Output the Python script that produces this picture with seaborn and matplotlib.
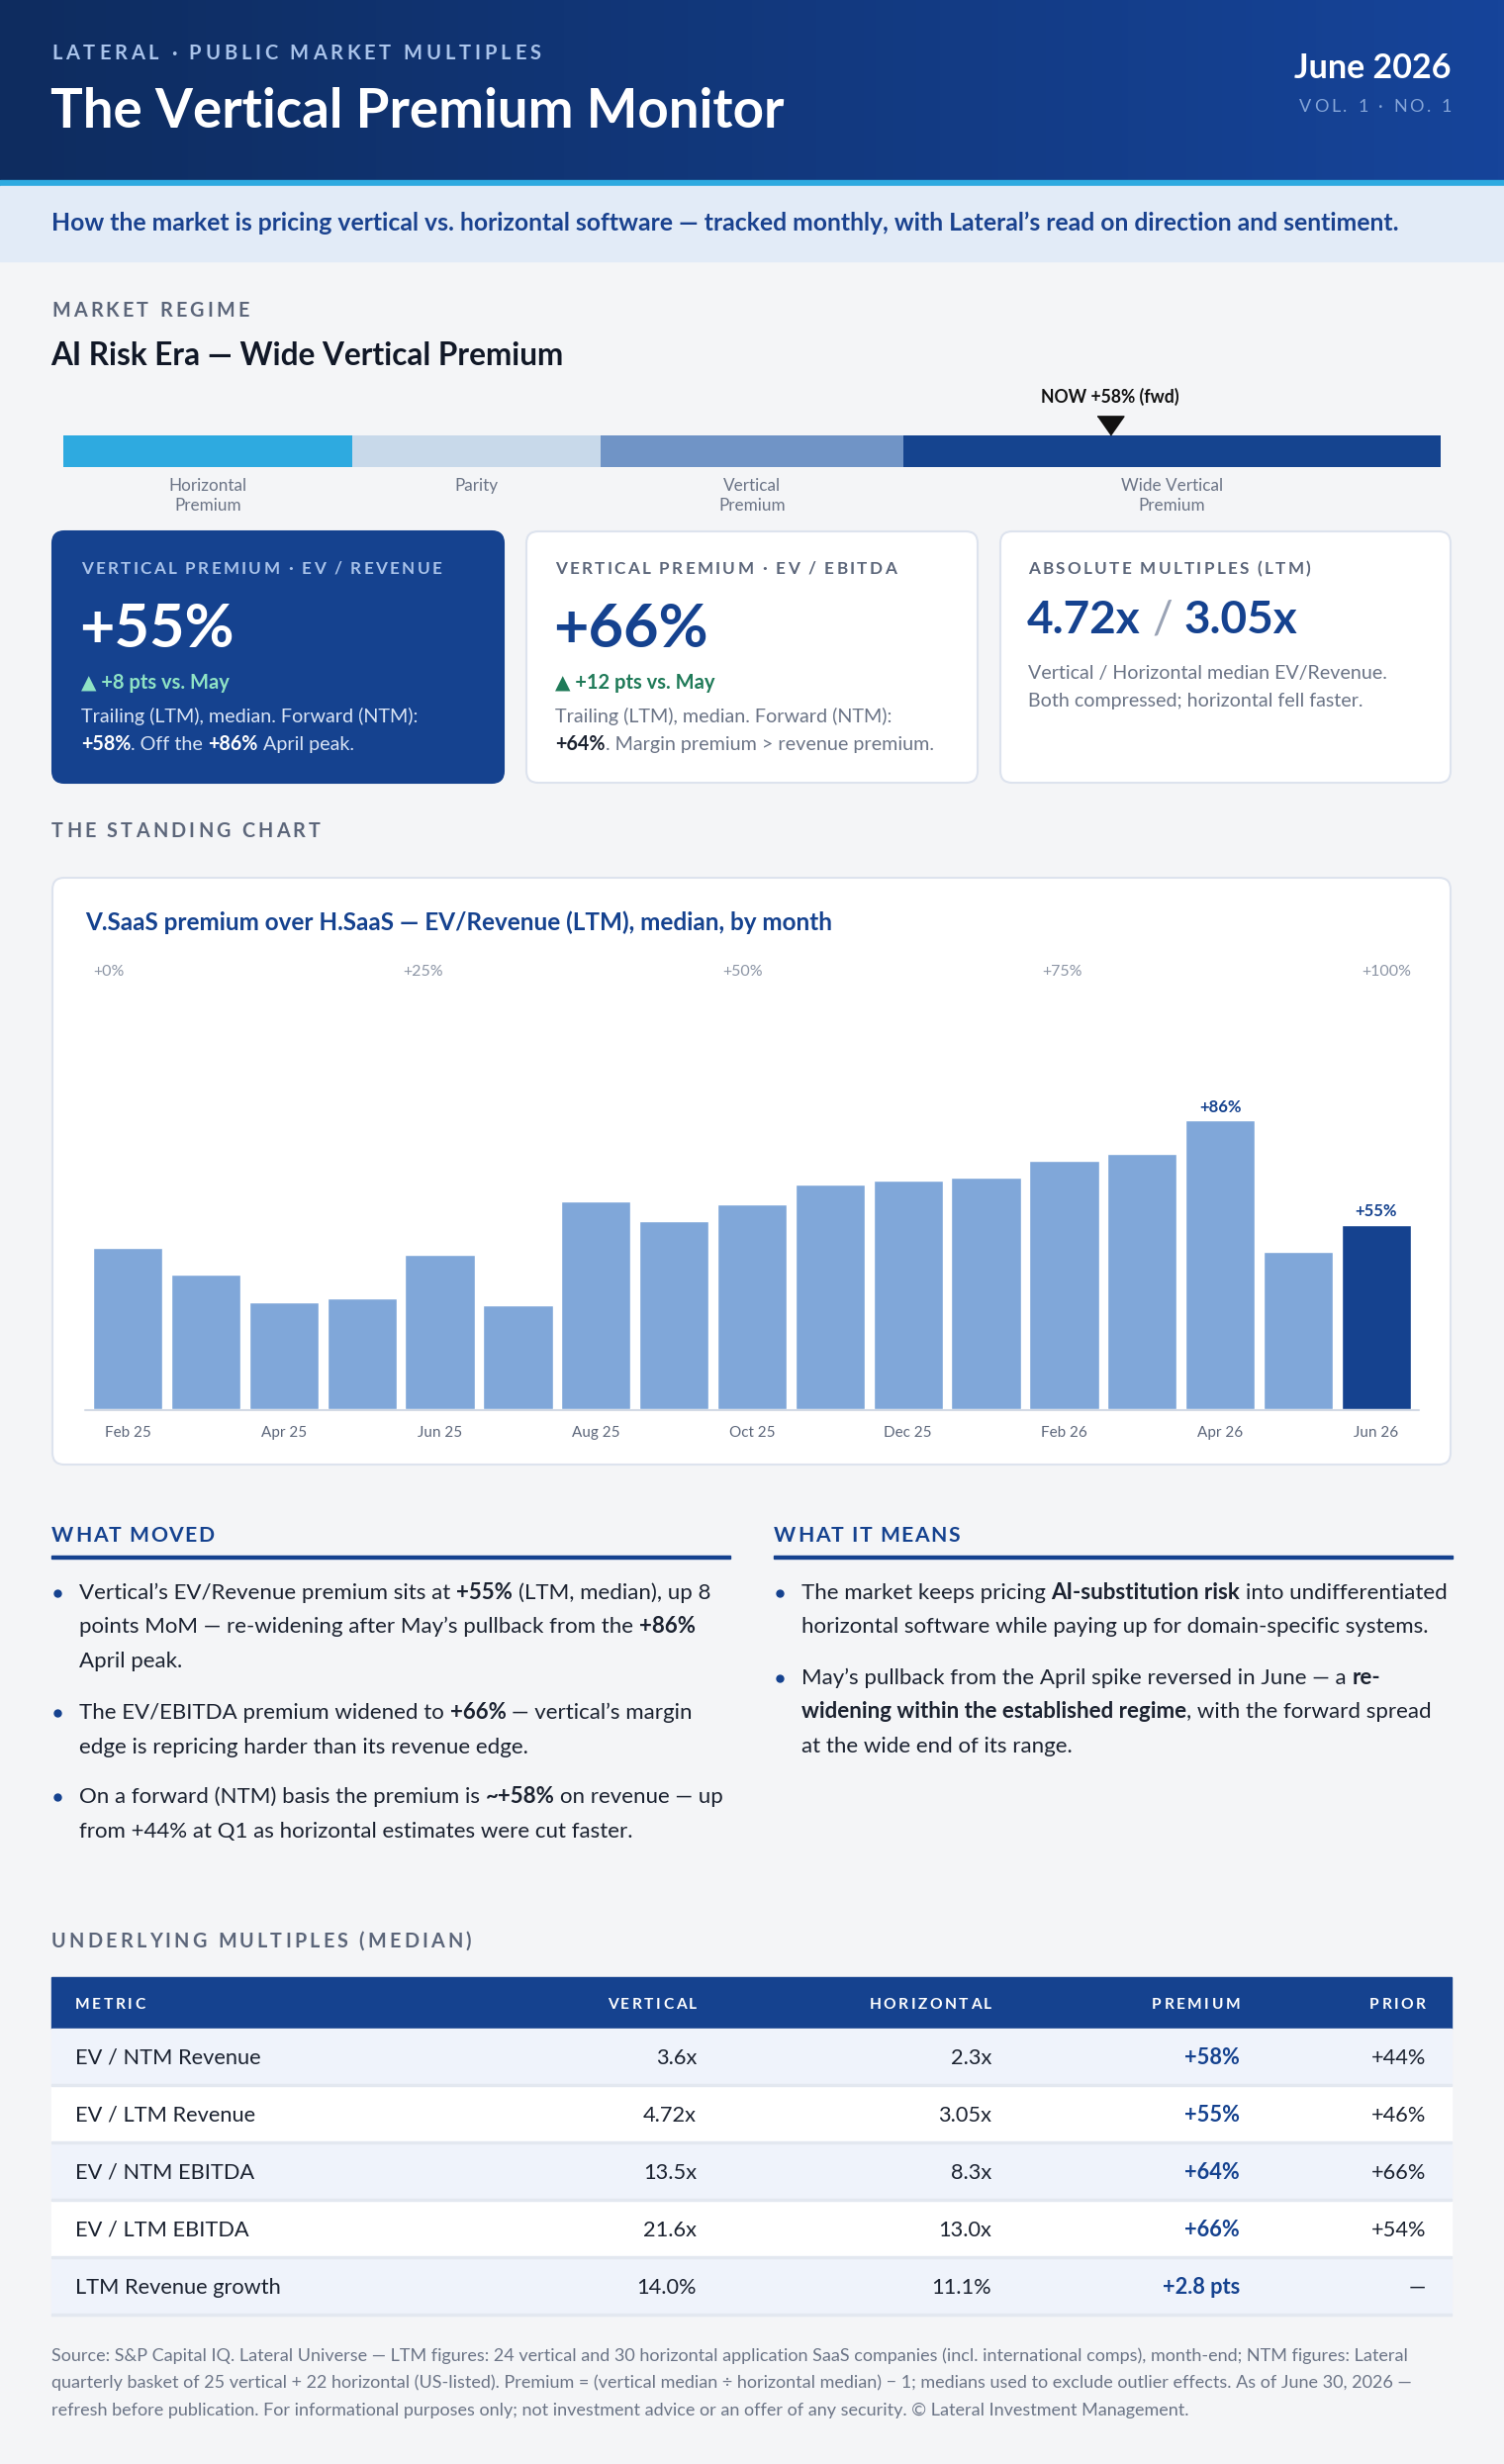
import matplotlib
matplotlib.use('Agg')
import numpy as np
import pandas as pd
import seaborn as sns
import matplotlib.pyplot as plt
from matplotlib.font_manager import FontProperties
from matplotlib.patches import FancyBboxPatch, Rectangle
from matplotlib.colors import LinearSegmentedColormap

W, H = 1520, 2490
FONT = 'Lato'

BLUE = '#15428f'
PAGE = '#f4f5f7'
INK = '#1b2230'
GRAY = '#5c667a'
MUTED = '#6b7486'
BAR_LIGHT = '#80a7d9'

# ---- chart data ----
months = ['Feb 25', 'Mar 25', 'Apr 25', 'May 25', 'Jun 25', 'Jul 25', 'Aug 25',
          'Sep 25', 'Oct 25', 'Nov 25', 'Dec 25', 'Jan 26', 'Feb 26', 'Mar 26',
          'Apr 26', 'May 26', 'Jun 26']
premium_ltm = [48, 40, 32, 33, 46, 31, 62, 56, 61, 67, 68, 69, 74, 76, 86, 47, 55]
scale_labels = ['+0%', '+25%', '+50%', '+75%', '+100%']

# ---- regime band ----
regime_names = ['Horizontal\nPremium', 'Parity', 'Vertical\nPremium', 'Wide Vertical\nPremium']
regime_widths = [21, 18, 22, 39]
regime_colors = ['#2eaae0', '#c8d9ea', '#7094c6', '#15448f']
now_position = 76
now_label = 'NOW +58% (fwd)'

# ---- table ----
table_cols = ['METRIC', 'VERTICAL', 'HORIZONTAL', 'PREMIUM', 'PRIOR']
metrics = ['EV / NTM Revenue', 'EV / LTM Revenue', 'EV / NTM EBITDA', 'EV / LTM EBITDA',
           'LTM Revenue growth']
vertical = ['3.6x', '4.72x', '13.5x', '21.6x', '14.0%']
horizontal = ['2.3x', '3.05x', '8.3x', '13.0x', '11.1%']
premium = ['+58%', '+55%', '+64%', '+66%', '+2.8 pts']
prior = ['+44%', '+46%', '+66%', '+54%', '—']

# ---- text blocks ----
what_moved = [
    [[("Vertical’s EV/Revenue premium sits at ", False), ("+55%", True), (" (LTM, median), up 8", False)],
     [("points MoM — re-widening after May’s pullback from the ", False), ("+86%", True)],
     [("April peak.", False)]],
    [[("The EV/EBITDA premium widened to ", False), ("+66%", True), (" — vertical’s margin", False)],
     [("edge is repricing harder than its revenue edge.", False)]],
    [[("On a forward (NTM) basis the premium is ", False), ("~+58%", True), (" on revenue — up", False)],
     [("from +44% at Q1 as horizontal estimates were cut faster.", False)]],
]
what_means = [
    [[("The market keeps pricing ", False), ("AI-substitution risk", True), (" into undifferentiated", False)],
     [("horizontal software while paying up for domain-specific systems.", False)]],
    [[("May’s pullback from the April spike reversed in June — a ", False), ("re-", True)],
     [("widening within the established regime", True), (", with the forward spread", False)],
     [("at the wide end of its range.", False)]],
]
footer = [
    "Source: S&P Capital IQ. Lateral Universe — LTM figures: 24 vertical and 30 horizontal application SaaS companies (incl. international comps), month-end; NTM figures: Lateral",
    "quarterly basket of 25 vertical + 22 horizontal (US-listed). Premium = (vertical median ÷ horizontal median) − 1; medians used to exclude outlier effects. As of June 30, 2026 —",
    "refresh before publication. For informational purposes only; not investment advice or an offer of any security. © Lateral Investment Management.",
]


def font(size, bold=False):
    return FontProperties(family=[FONT, 'DejaVu Sans'], size=size,
                          weight='bold' if bold else 'normal')


def advance(R, s, fp):
    if not s:
        return 0.0
    w1 = R.get_text_width_height_descent('|' + s + '|', fp, ismath=False)[0]
    w0 = R.get_text_width_height_descent('||', fp, ismath=False)[0]
    return w1 - w0


def draw_runs(ax, R, x, y, runs, size, color, ha='left'):
    pieces = []
    for run in runs:
        col = run[2] if len(run) > 2 else color
        pieces.append((run[0], font(size, run[1]), col))
    total = sum(advance(R, t, fp) for t, fp, _ in pieces)
    if ha == 'right':
        x -= total
    elif ha == 'center':
        x -= total / 2
    for txt, fp, col in pieces:
        lead = len(txt) - len(txt.lstrip(' '))
        body = txt.strip(' ')
        if body:
            ax.text(x + advance(R, txt[:lead], fp), y, body, fontproperties=fp,
                    color=col, ha='left', va='baseline')
        x += advance(R, txt, fp)


def spaced(ax, R, x, y, s, size, color, track, bold=True, ha='left'):
    fp = font(size, bold)
    total = advance(R, s, fp) + track * (len(s) - 1)
    if ha == 'right':
        x -= total
    for i, ch in enumerate(s):
        if ch == ' ':
            continue
        ax.text(x + advance(R, s[:i], fp) + track * i, y, ch, fontproperties=fp,
                color=color, ha='left', va='baseline')


def card(ax, x0, y0, x1, y1, face, edge=None):
    ax.add_patch(FancyBboxPatch((x0, y0), x1 - x0, y1 - y0,
                                boxstyle='round,pad=0,rounding_size=12',
                                facecolor=face, edgecolor=edge or face,
                                linewidth=1.5, zorder=1))


def main():
    sns.set_theme(style='white')
    plt.rcParams['font.family'] = [FONT, 'DejaVu Sans']

    fig = plt.figure(figsize=(W / 100, H / 100), dpi=100, facecolor=PAGE)
    bg = fig.add_axes([0, 0, 1, 1])
    bg.set_autoscale_on(False)
    bg.axis('off')
    R = fig.canvas.get_renderer()

    # header band
    cmap = LinearSegmentedColormap.from_list('hdr', ['#0e2c5f', '#16449a'])
    bg.imshow(np.linspace(0, 1, 256).reshape(1, -1), cmap=cmap, aspect='auto',
              extent=[0, W, 182, 0], zorder=0)
    bg.add_patch(Rectangle((0, 182), W, 6, color='#2eaae0', zorder=1))
    bg.add_patch(Rectangle((0, 188), W, 76, color='#e2ebf7', zorder=1))
    bg.set_xlim(0, W)
    bg.set_ylim(H, 0)

    spaced(bg, R, 52, 60, 'LATERAL · PUBLIC MARKET MULTIPLES', 14.5, '#a9c3ea', 3.8)
    bg.text(51, 129, 'The Vertical Premium Monitor', fontproperties=font(39.3, True),
            color='white', va='baseline')
    bg.text(1467, 79, 'June 2026', fontproperties=font(24.5, True), color='white',
            ha='right', va='baseline')
    spaced(bg, R, 1467, 113, 'VOL. 1 · NO. 1', 13, '#85a5d8', 2.9, bold=False, ha='right')
    bg.text(52, 233, 'How the market is pricing vertical vs. horizontal software — tracked '
            'monthly, with Lateral’s read on direction and sentiment.',
            fontproperties=font(17.8, True), color='#1a428f', va='baseline')

    # market regime
    spaced(bg, R, 52, 320, 'MARKET REGIME', 14.2, GRAY, 3.2)
    bg.text(51, 369, 'AI Risk Era — Wide Vertical Premium', fontproperties=font(22.7, True),
            color='#111827', va='baseline')

    rax = fig.add_axes([64 / W, 1 - 472 / H, 1392 / W, 32 / H])
    lefts = np.cumsum([0] + regime_widths[:-1])
    rax.barh(0.5, regime_widths, left=lefts, height=1, color=regime_colors, linewidth=0)
    rax.set_xlim(0, 100)
    rax.set_ylim(0, 1)
    rax.axis('off')
    for name, left, width in zip(regime_names, lefts, regime_widths):
        for k, line in enumerate(name.split('\n')):
            rax.text(left + width / 2, -0.6 - 0.63 * k, line, fontproperties=font(12.3),
                     color=MUTED, ha='center', va='center')
    rax.plot([now_position], [1.31], marker=[(-0.7, 0.5), (0.7, 0.5), (0, -0.5)],
             markersize=19.4, color='#111111', clip_on=False, linestyle='none')
    rax.text(now_position, 2.03, now_label, fontproperties=font(12.7, True), color='#111111',
             ha='center', va='baseline')

    # KPI cards
    card(bg, 53, 537, 509, 791, BLUE)
    card(bg, 532, 537, 988, 791, 'white', '#dde3ee')
    card(bg, 1011, 537, 1466, 791, 'white', '#dde3ee')

    spaced(bg, R, 82, 580, 'VERTICAL PREMIUM · EV / REVENUE', 12.3, '#a9c3ea', 2.3)
    bg.text(80, 654, '+55%', fontproperties=font(44, True), color='white', va='baseline')
    draw_runs(bg, R, 82, 696, [('▲ +8 pts vs. May', True)], 14.5, '#8fe3c5')
    draw_runs(bg, R, 82, 730, [('Trailing (LTM), median. Forward (NTM):', False)], 14.2, '#d9e4f5')
    draw_runs(bg, R, 82, 758, [('+58%', True, 'white'), ('. Off the ', False), ('+86%', True, 'white'),
                               (' April peak.', False)], 14.2, '#d9e4f5')

    spaced(bg, R, 561, 580, 'VERTICAL PREMIUM · EV / EBITDA', 12.3, GRAY, 2.3)
    bg.text(559, 654, '+66%', fontproperties=font(44, True), color=BLUE, va='baseline')
    draw_runs(bg, R, 561, 696, [('▲ +12 pts vs. May', True)], 14.5, '#1f7a58')
    draw_runs(bg, R, 561, 730, [('Trailing (LTM), median. Forward (NTM):', False)], 14.2, MUTED)
    draw_runs(bg, R, 561, 758, [('+64%', True, INK), ('. Margin premium > revenue premium.', False)],
              14.2, MUTED)

    spaced(bg, R, 1039, 580, 'ABSOLUTE MULTIPLES (LTM)', 12.3, GRAY, 2.3)
    draw_runs(bg, R, 1038, 640, [('4.72x', True, BLUE), (' / ', False, '#9aa3b5'), ('3.05x', True, BLUE)],
              33, BLUE)
    draw_runs(bg, R, 1039, 686, [('Vertical / Horizontal median EV/Revenue.', False)], 14.1, MUTED)
    draw_runs(bg, R, 1039, 714, [('Both compressed; horizontal fell faster.', False)], 14.1, MUTED)

    # standing chart
    spaced(bg, R, 52, 846, 'THE STANDING CHART', 14.2, GRAY, 3.2)
    card(bg, 53, 887, 1466, 1480, 'white', '#dde3ee')
    bg.text(86, 940, 'V.SaaS premium over H.SaaS — EV/Revenue (LTM), median, by month',
            fontproperties=font(17.5, True), color=BLUE, va='baseline')

    bars_l, bars_r, chart_top, chart_base = 94, 1426, 1000, 1424
    bar_w = 0.89
    fp_scale = font(11.5)
    widths = [advance(R, s, fp_scale) for s in scale_labels]
    gap = (bars_r - bars_l - sum(widths)) / (len(scale_labels) - 1)
    sx = bars_l
    for s, w in zip(scale_labels, widths):
        bg.text(sx, 986, s, fontproperties=fp_scale, color='#8c95a5', va='baseline')
        sx += w + gap

    bg.plot([86, 1434], [1425, 1425], color='#d3dae5', linewidth=1.5, zorder=2)

    slot = (bars_r - bars_l) / (len(months) - 1 + bar_w)
    chart_l = bars_l - slot * (1 - bar_w) / 2
    cax = fig.add_axes([chart_l / W, 1 - chart_base / H, slot * len(months) / W,
                        (chart_base - chart_top) / H])
    df = pd.DataFrame({'month': months, 'premium': premium_ltm})
    df['kind'] = np.where(df['month'] == months[-1], 'current', 'past')
    sns.barplot(data=df, x='month', y='premium', hue='kind',
                palette={'past': BAR_LIGHT, 'current': BLUE}, dodge=False,
                saturation=1, width=bar_w, legend=False, ax=cax)
    cax.set_facecolor('none')
    cax.set_xlim(-0.5, len(months) - 0.5)
    cax.set_ylim(0, (chart_base - chart_top) / 3.39)
    cax.set_xlabel('')
    cax.set_ylabel('')
    cax.set_yticks([])
    cax.set_xticks(range(0, len(months), 2))
    cax.set_xticklabels(months[::2])
    cax.tick_params(axis='x', length=0, pad=12, labelsize=11, labelcolor=GRAY)
    sns.despine(ax=cax, left=True, bottom=True)
    peak = int(np.argmax(premium_ltm))
    for i in [peak, len(months) - 1]:
        cax.annotate(f'+{premium_ltm[i]}%', (i, premium_ltm[i]), xytext=(0, 6.2),
                     textcoords='offset points', ha='center', va='baseline',
                     fontproperties=font(12, True), color=BLUE)

    # commentary columns
    for x0, x1, title, bullets, starts in [
            (52, 738, 'WHAT MOVED', what_moved, [1616, 1737, 1822]),
            (782, 1468, 'WHAT IT MEANS', what_means, [1616, 1702])]:
        spaced(bg, R, x0, 1558, title, 15.2, BLUE, 1.5)
        bg.add_patch(Rectangle((x0, 1571.5), x1 - x0, 3, color=BLUE, zorder=2))
        for lines, y0 in zip(bullets, starts):
            bg.plot([x0 + 6], [y0 - 6], marker='o', markersize=5, color=BLUE)
            for k, runs in enumerate(lines):
                draw_runs(bg, R, x0 + 28, y0 + 34.5 * k, runs, 16, INK)

    # table
    spaced(bg, R, 52, 1968, 'UNDERLYING MULTIPLES (MEDIAN)', 14.2, GRAY, 3.2)
    bg.add_patch(Rectangle((52, 1998), 1415, 52, color=BLUE, zorder=1))
    col_x = [76, 704, 1002, 1253, 1441]
    col_ha = ['left', 'right', 'right', 'right', 'right']
    for name, cx, ha in zip(table_cols, col_x, col_ha):
        spaced(bg, R, cx, 2030, name, 11.2, 'white', 2.5, ha=ha)
    row_h = 58
    for r, cells in enumerate(zip(metrics, vertical, horizontal, premium, prior)):
        top = 2050 + r * row_h
        bg.add_patch(Rectangle((52, top), 1415, row_h,
                               color='#eff3fb' if r % 2 == 0 else 'white', zorder=1))
        bg.add_patch(Rectangle((52, top + row_h - 2), 1415, 2, color='#e3e8f0', zorder=2))
        for c, (val, cx, ha) in enumerate(zip(cells, col_x, col_ha)):
            draw_runs(bg, R, cx, top + 36, [(val, c == 3)], 15.7, BLUE if c == 3 else INK, ha=ha)

    for k, line in enumerate(footer):
        bg.text(52, 2386 + 27.5 * k, line, fontproperties=font(13), color=MUTED, va='baseline')

    fig.savefig('out.png', dpi=100, facecolor=PAGE)


if __name__ == '__main__':
    main()
